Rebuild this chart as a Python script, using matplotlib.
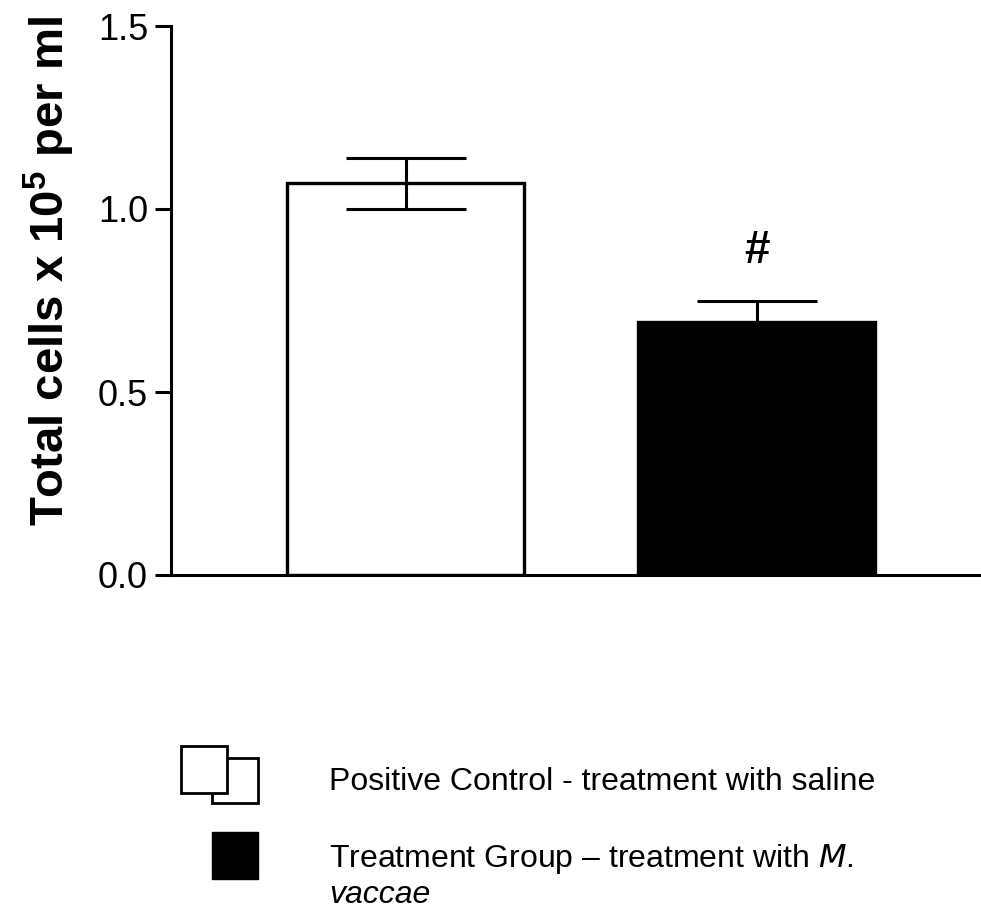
import matplotlib
matplotlib.use('Agg')
import matplotlib.pyplot as plt
from matplotlib.patches import Rectangle

plt.rcParams['font.family'] = ['Liberation Sans', 'DejaVu Sans']
plt.rcParams['mathtext.fontset'] = 'custom'
plt.rcParams['mathtext.bf'] = 'Liberation Sans:bold'
plt.rcParams['mathtext.rm'] = 'Liberation Sans'

# datos
grupos = ['Positive Control - treatment with saline', 'Treatment Group \u2013 treatment with M. vaccae']
medias = [1.07, 0.69]
errores = [0.07, 0.06]
colores = ['white', 'black']
marcas = ['', '#']

fig = plt.figure(figsize=(9.81, 9.11), dpi=100)
ax = fig.add_axes([171 / 981, 1 - 575 / 911, 810 / 981, 549 / 911])

x = list(range(len(medias)))
ax.bar(x, medias, width=0.676, color=colores, edgecolor='black', linewidth=2.4, zorder=2)
ax.errorbar(x, medias, yerr=errores, fmt='none', ecolor='black', elinewidth=2.2,
            capsize=43, capthick=2.2, zorder=3)
for xi, m, e, t in zip(x, medias, errores, marcas):
    if t:
        ax.text(xi, m + e + 0.075, t, ha='center', va='bottom', fontsize=33, fontweight='bold')

ax.set_xlim(-0.670, 1.640)
ax.set_ylim(0, 1.5)
ax.set_yticks([0.0, 0.5, 1.0, 1.5])
ax.set_yticklabels(['0.0', '0.5', '1.0', '1.5'])
ax.set_xticks([])
ax.tick_params(axis='y', length=11.5, width=2.2, pad=5, labelsize=26)
for s in ['top', 'right']:
    ax.spines[s].set_visible(False)
for s in ['left', 'bottom']:
    ax.spines[s].set_linewidth(2.2)
ax.spines['left'].set_bounds(0, 1.5)

ax.set_ylabel(r'Total cells x 10$^{\mathbf{5}}$ per ml', fontsize=34, fontweight='bold')
ax.yaxis.label.set_va('center')
ax.yaxis.set_label_coords(-0.150, 0.554)

# leyenda dibujada a mano debajo del grafico
lg = fig.add_axes([0, 0, 1, 1])
lg.set_xlim(0, 981)
lg.set_ylim(911, 0)
lg.axis('off')
lg.add_patch(Rectangle((212, 758), 46, 45, facecolor='white', edgecolor='black', linewidth=2))
lg.add_patch(Rectangle((181, 746), 46, 47, facecolor='white', edgecolor='black', linewidth=2))
lg.add_patch(Rectangle((212, 832), 46, 47, facecolor='black', edgecolor='black', linewidth=1))
lg.text(329, 790, grupos[0], fontsize=23, va='baseline', ha='left')
lg.text(329, 867, 'Treatment Group \u2013 treatment with $\\it{M.}$', fontsize=23, va='baseline', ha='left')
lg.text(329, 903, 'vaccae', fontsize=23, va='baseline', ha='left', style='italic')

fig.savefig('out.png', dpi=100)
